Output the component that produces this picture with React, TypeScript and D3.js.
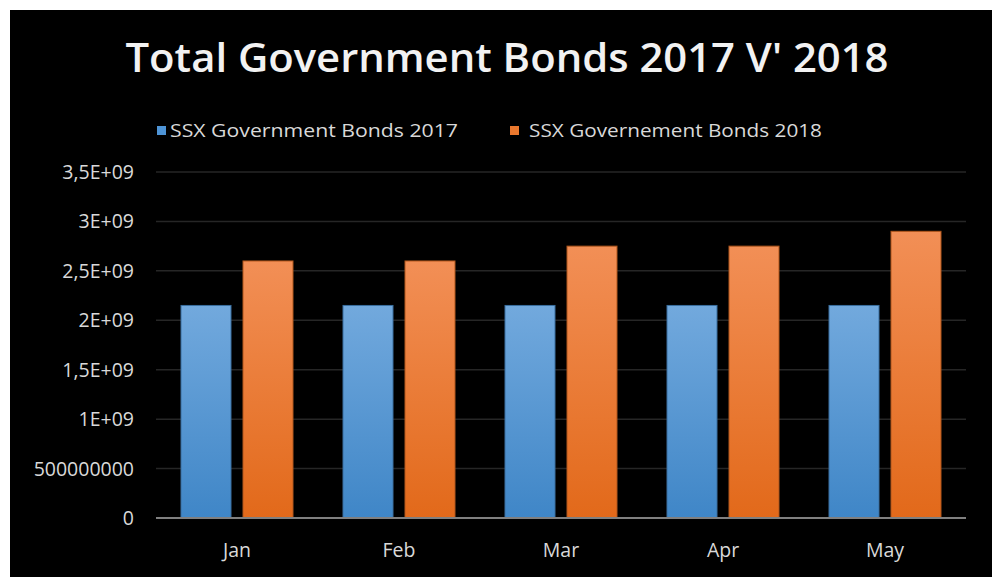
import React from "react";
import * as d3 from "d3";

const categories = ["Jan", "Feb", "Mar", "Apr", "May"];
const series2017 = [2.15e9, 2.15e9, 2.15e9, 2.15e9, 2.15e9];
const series2018 = [2.6e9, 2.6e9, 2.75e9, 2.75e9, 2.9e9];
const seriesNames = ["SSX Government Bonds 2017", "SSX Governement Bonds 2018"];
const yTicks = [0, 5e8, 1e9, 1.5e9, 2e9, 2.5e9, 3e9, 3.5e9];
const yTickLabels = ["0", "500000000", "1E+09", "1,5E+09", "2E+09", "2,5E+09", "3E+09", "3,5E+09"];
const title = "Total Government Bonds 2017 V' 2018";

export default function App() {
  const W = 992, H = 577;
  const left = 156, right = 966, top = 172, bottom = 518;
  const x = d3.scaleBand<string>().domain(categories).range([left, right]).paddingInner(0).paddingOuter(0);
  const y = d3.scaleLinear().domain([0, 3.5e9]).range([bottom, top]);
  const bw = 50, gap = 12;
  const font = "'Open Sans', 'DejaVu Sans', sans-serif";
  return (
    <svg width={W} height={H} style={{ position: "absolute", left: 0, top: 0, display: "block" }}>
      <defs>
        <linearGradient id="gBlue" x1="0" y1="0" x2="0" y2="1">
          <stop offset="0%" stopColor="#72a9dd" />
          <stop offset="100%" stopColor="#3f86c7" />
        </linearGradient>
        <linearGradient id="gOrange" x1="0" y1="0" x2="0" y2="1">
          <stop offset="0%" stopColor="#f28f56" />
          <stop offset="100%" stopColor="#e2691a" />
        </linearGradient>
      </defs>
      <rect x={0} y={0} width={W} height={H} fill="#ffffff" />
      <rect x={10} y={10} width={W - 10} height={H - 10} fill="#000000" />
      <text x={507} y={72} textAnchor="middle" fill="#f2f2f2" fontFamily={font} fontWeight={600} fontSize={40}
        textLength={763} lengthAdjust="spacingAndGlyphs">{title}</text>
      {/* legend */}
      <rect x={157} y={126} width={9} height={9} fill="#4e94d6" />
      <text x={170} y={137} fill="#d9d9d9" fontFamily={font} fontSize={19} textLength={288} lengthAdjust="spacingAndGlyphs">{seriesNames[0]}</text>
      <rect x={510} y={126} width={9} height={9} fill="#ea782e" />
      <text x={529} y={137} fill="#d9d9d9" fontFamily={font} fontSize={19} textLength={293} lengthAdjust="spacingAndGlyphs">{seriesNames[1]}</text>
      {/* grid */}
      {yTicks.map((t, i) => (
        <g key={i}>
          {t !== 0 && <line x1={left} x2={right} y1={y(t)} y2={y(t)} stroke="#262626" strokeWidth={1.5} />}
          <text x={134} y={y(t) + 7} textAnchor="end" fill="#d9d9d9" fontFamily={font} fontSize={19.5}>{yTickLabels[i]}</text>
        </g>
      ))}
      {/* bars */}
      {categories.map((c, i) => {
        const cx = (x(c) as number) + x.bandwidth() / 2;
        return (
          <g key={c}>
            <rect x={cx - gap / 2 - bw} y={y(series2017[i])} width={bw} height={bottom - y(series2017[i])}
              fill="url(#gBlue)" stroke="#3a6f9f" strokeWidth={1} />
            <rect x={cx + gap / 2} y={y(series2018[i])} width={bw} height={bottom - y(series2018[i])}
              fill="url(#gOrange)" stroke="#b0561c" strokeWidth={1} />
            <text x={cx} y={557} textAnchor="middle" fill="#d9d9d9" fontFamily={font} fontSize={19.5}>{c}</text>
          </g>
        );
      })}
      <line x1={left} x2={right} y1={bottom} y2={bottom} stroke="#808080" strokeWidth={2} />
    </svg>
  );
}
